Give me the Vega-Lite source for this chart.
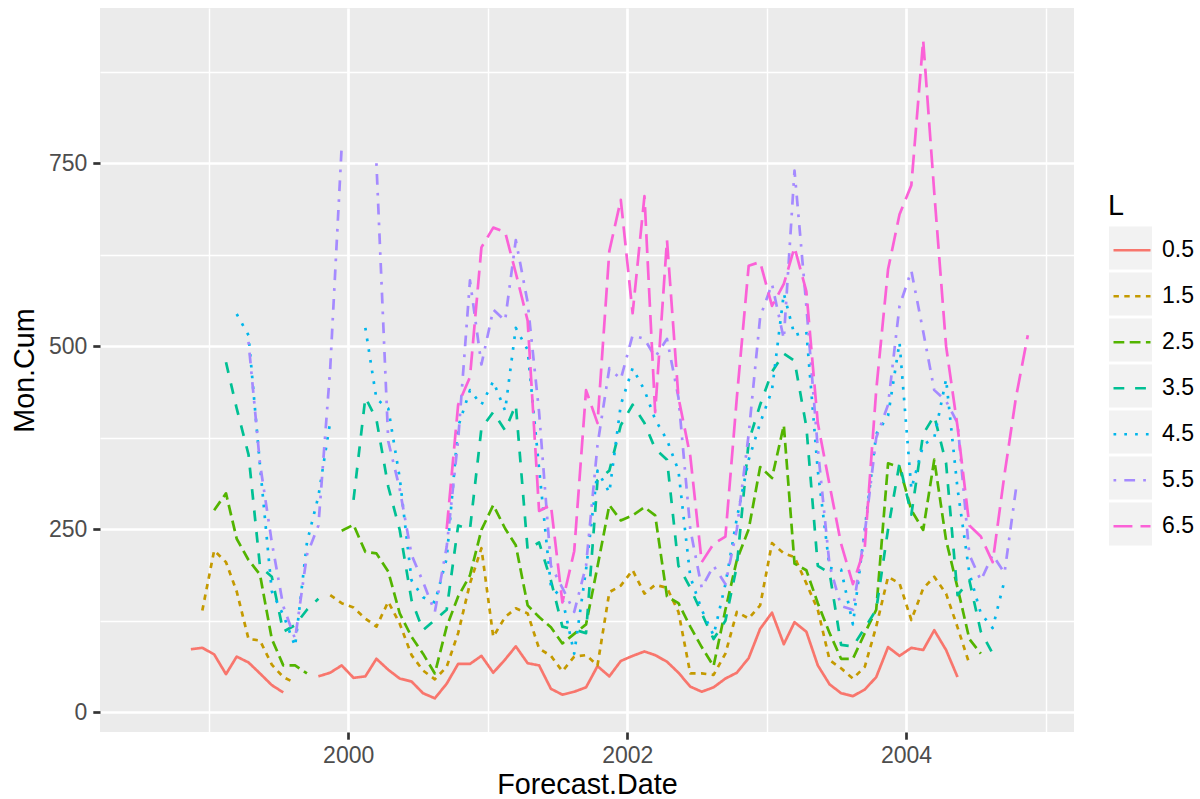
{
  "$schema": "https://vega.github.io/schema/vega-lite/v6.json",
  "width": 974,
  "height": 724,
  "autosize": {"type": "none"},
  "padding": {"left": 100, "top": 8, "right": 126, "bottom": 67},
  "background": "#FFFFFF",
  "config": {
    "font": "Liberation Sans",
    "view": {"fill": "#EBEBEB", "stroke": null},
    "axis": {"domain": false}
  },
  "data": {
    "format": {"parse": {"d": "utc:'%Y-%m-%d'"}},
    "values": [
      {"L":"0.5","d":"1998-11-15","v":86},{"L":"0.5","d":"1998-12-15","v":88},{"L":"0.5","d":"1999-01-15","v":79},{"L":"0.5","d":"1999-02-15","v":52},{"L":"0.5","d":"1999-03-15","v":76},{"L":"0.5","d":"1999-04-15","v":68},{"L":"0.5","d":"1999-05-15","v":53},{"L":"0.5","d":"1999-06-15","v":37},{"L":"0.5","d":"1999-07-15","v":27},{"L":"0.5","d":"1999-08-15","v":null},{"L":"0.5","d":"1999-10-15","v":49},{"L":"0.5","d":"1999-11-15","v":54},{"L":"0.5","d":"1999-12-15","v":64},
      {"L":"0.5","d":"2000-01-15","v":47},{"L":"0.5","d":"2000-02-15","v":49},{"L":"0.5","d":"2000-03-15","v":73},{"L":"0.5","d":"2000-04-15","v":58},{"L":"0.5","d":"2000-05-15","v":46},{"L":"0.5","d":"2000-06-15","v":42},{"L":"0.5","d":"2000-07-15","v":26},{"L":"0.5","d":"2000-08-15","v":19},{"L":"0.5","d":"2000-09-15","v":39},{"L":"0.5","d":"2000-10-15","v":66},{"L":"0.5","d":"2000-11-15","v":66},{"L":"0.5","d":"2000-12-15","v":77},
      {"L":"0.5","d":"2001-01-15","v":54},{"L":"0.5","d":"2001-02-15","v":72},{"L":"0.5","d":"2001-03-15","v":90},{"L":"0.5","d":"2001-04-15","v":67},{"L":"0.5","d":"2001-05-15","v":64},{"L":"0.5","d":"2001-06-15","v":32},{"L":"0.5","d":"2001-07-15","v":24},{"L":"0.5","d":"2001-08-15","v":28},{"L":"0.5","d":"2001-09-15","v":34},{"L":"0.5","d":"2001-10-15","v":63},{"L":"0.5","d":"2001-11-15","v":49},{"L":"0.5","d":"2001-12-15","v":70},
      {"L":"0.5","d":"2002-01-15","v":77},{"L":"0.5","d":"2002-02-15","v":83},{"L":"0.5","d":"2002-03-15","v":78},{"L":"0.5","d":"2002-04-15","v":69},{"L":"0.5","d":"2002-05-15","v":54},{"L":"0.5","d":"2002-06-15","v":35},{"L":"0.5","d":"2002-07-15","v":28},{"L":"0.5","d":"2002-08-15","v":34},{"L":"0.5","d":"2002-09-15","v":46},{"L":"0.5","d":"2002-10-15","v":54},{"L":"0.5","d":"2002-11-15","v":74},{"L":"0.5","d":"2002-12-15","v":114},
      {"L":"0.5","d":"2003-01-15","v":136},{"L":"0.5","d":"2003-02-15","v":93},{"L":"0.5","d":"2003-03-15","v":123},{"L":"0.5","d":"2003-04-15","v":110},{"L":"0.5","d":"2003-05-15","v":64},{"L":"0.5","d":"2003-06-15","v":38},{"L":"0.5","d":"2003-07-15","v":26},{"L":"0.5","d":"2003-08-15","v":22},{"L":"0.5","d":"2003-09-15","v":31},{"L":"0.5","d":"2003-10-15","v":48},{"L":"0.5","d":"2003-11-15","v":89},{"L":"0.5","d":"2003-12-15","v":77},
      {"L":"0.5","d":"2004-01-15","v":88},{"L":"0.5","d":"2004-02-15","v":85},{"L":"0.5","d":"2004-03-15","v":112},{"L":"0.5","d":"2004-04-15","v":85},{"L":"0.5","d":"2004-05-15","v":48},

      {"L":"1.5","d":"1998-12-15","v":139},{"L":"1.5","d":"1999-01-15","v":221},{"L":"1.5","d":"1999-02-15","v":205},{"L":"1.5","d":"1999-03-15","v":165},{"L":"1.5","d":"1999-04-15","v":100},{"L":"1.5","d":"1999-05-15","v":98},{"L":"1.5","d":"1999-06-15","v":65},{"L":"1.5","d":"1999-07-15","v":48},{"L":"1.5","d":"1999-08-15","v":40},{"L":"1.5","d":"1999-09-15","v":null},{"L":"1.5","d":"1999-11-15","v":160},{"L":"1.5","d":"1999-12-15","v":149},
      {"L":"1.5","d":"2000-01-15","v":143},{"L":"1.5","d":"2000-02-15","v":128},{"L":"1.5","d":"2000-03-15","v":117},{"L":"1.5","d":"2000-04-15","v":151},{"L":"1.5","d":"2000-05-15","v":121},{"L":"1.5","d":"2000-06-15","v":78},{"L":"1.5","d":"2000-07-15","v":57},{"L":"1.5","d":"2000-08-15","v":45},{"L":"1.5","d":"2000-09-15","v":62},{"L":"1.5","d":"2000-10-15","v":108},{"L":"1.5","d":"2000-11-15","v":176},{"L":"1.5","d":"2000-12-15","v":224},
      {"L":"1.5","d":"2001-01-15","v":103},{"L":"1.5","d":"2001-02-15","v":130},{"L":"1.5","d":"2001-03-15","v":142},{"L":"1.5","d":"2001-04-15","v":135},{"L":"1.5","d":"2001-05-15","v":87},{"L":"1.5","d":"2001-06-15","v":77},{"L":"1.5","d":"2001-07-15","v":56},{"L":"1.5","d":"2001-08-15","v":76},{"L":"1.5","d":"2001-09-15","v":78},{"L":"1.5","d":"2001-10-15","v":64},{"L":"1.5","d":"2001-11-15","v":164},{"L":"1.5","d":"2001-12-15","v":173},
      {"L":"1.5","d":"2002-01-15","v":194},{"L":"1.5","d":"2002-02-15","v":162},{"L":"1.5","d":"2002-03-15","v":174},{"L":"1.5","d":"2002-04-15","v":170},{"L":"1.5","d":"2002-05-15","v":137},{"L":"1.5","d":"2002-06-15","v":53},{"L":"1.5","d":"2002-07-15","v":53},{"L":"1.5","d":"2002-08-15","v":51},{"L":"1.5","d":"2002-09-15","v":80},{"L":"1.5","d":"2002-10-15","v":137},{"L":"1.5","d":"2002-11-15","v":128},{"L":"1.5","d":"2002-12-15","v":146},
      {"L":"1.5","d":"2003-01-15","v":231},{"L":"1.5","d":"2003-02-15","v":217},{"L":"1.5","d":"2003-03-15","v":212},{"L":"1.5","d":"2003-04-15","v":176},{"L":"1.5","d":"2003-05-15","v":140},{"L":"1.5","d":"2003-06-15","v":71},{"L":"1.5","d":"2003-07-15","v":60},{"L":"1.5","d":"2003-08-15","v":46},{"L":"1.5","d":"2003-09-15","v":62},{"L":"1.5","d":"2003-10-15","v":117},{"L":"1.5","d":"2003-11-15","v":185},{"L":"1.5","d":"2003-12-15","v":176},
      {"L":"1.5","d":"2004-01-15","v":126},{"L":"1.5","d":"2004-02-15","v":169},{"L":"1.5","d":"2004-03-15","v":185},{"L":"1.5","d":"2004-04-15","v":162},{"L":"1.5","d":"2004-05-15","v":116},{"L":"1.5","d":"2004-06-15","v":66},

      {"L":"2.5","d":"1999-01-15","v":276},{"L":"2.5","d":"1999-02-15","v":299},{"L":"2.5","d":"1999-03-15","v":237},{"L":"2.5","d":"1999-04-15","v":208},{"L":"2.5","d":"1999-05-15","v":188},{"L":"2.5","d":"1999-06-15","v":100},{"L":"2.5","d":"1999-07-15","v":64},{"L":"2.5","d":"1999-08-15","v":64},{"L":"2.5","d":"1999-09-15","v":53},{"L":"2.5","d":"1999-10-15","v":null},{"L":"2.5","d":"1999-12-15","v":248},
      {"L":"2.5","d":"2000-01-15","v":256},{"L":"2.5","d":"2000-02-15","v":219},{"L":"2.5","d":"2000-03-15","v":217},{"L":"2.5","d":"2000-04-15","v":192},{"L":"2.5","d":"2000-05-15","v":135},{"L":"2.5","d":"2000-06-15","v":103},{"L":"2.5","d":"2000-07-15","v":80},{"L":"2.5","d":"2000-08-15","v":53},{"L":"2.5","d":"2000-09-15","v":117},{"L":"2.5","d":"2000-10-15","v":158},{"L":"2.5","d":"2000-11-15","v":187},{"L":"2.5","d":"2000-12-15","v":249},
      {"L":"2.5","d":"2001-01-15","v":283},{"L":"2.5","d":"2001-02-15","v":251},{"L":"2.5","d":"2001-03-15","v":228},{"L":"2.5","d":"2001-04-15","v":146},{"L":"2.5","d":"2001-05-15","v":130},{"L":"2.5","d":"2001-06-15","v":116},{"L":"2.5","d":"2001-07-15","v":94},{"L":"2.5","d":"2001-08-15","v":107},{"L":"2.5","d":"2001-09-15","v":120},{"L":"2.5","d":"2001-10-15","v":199},{"L":"2.5","d":"2001-11-15","v":283},{"L":"2.5","d":"2001-12-15","v":262},
      {"L":"2.5","d":"2002-01-15","v":269},{"L":"2.5","d":"2002-02-15","v":280},{"L":"2.5","d":"2002-03-15","v":269},{"L":"2.5","d":"2002-04-15","v":158},{"L":"2.5","d":"2002-05-15","v":149},{"L":"2.5","d":"2002-06-15","v":117},{"L":"2.5","d":"2002-07-15","v":89},{"L":"2.5","d":"2002-08-15","v":63},{"L":"2.5","d":"2002-09-15","v":140},{"L":"2.5","d":"2002-10-15","v":208},{"L":"2.5","d":"2002-11-15","v":250},{"L":"2.5","d":"2002-12-15","v":335},
      {"L":"2.5","d":"2003-01-15","v":320},{"L":"2.5","d":"2003-02-15","v":392},{"L":"2.5","d":"2003-03-15","v":203},{"L":"2.5","d":"2003-04-15","v":194},{"L":"2.5","d":"2003-05-15","v":149},{"L":"2.5","d":"2003-06-15","v":108},{"L":"2.5","d":"2003-07-15","v":73},{"L":"2.5","d":"2003-08-15","v":73},{"L":"2.5","d":"2003-09-15","v":108},{"L":"2.5","d":"2003-10-15","v":140},{"L":"2.5","d":"2003-11-15","v":340},{"L":"2.5","d":"2003-12-15","v":335},
      {"L":"2.5","d":"2004-01-15","v":276},{"L":"2.5","d":"2004-02-15","v":249},{"L":"2.5","d":"2004-03-15","v":345},{"L":"2.5","d":"2004-04-15","v":235},{"L":"2.5","d":"2004-05-15","v":170},{"L":"2.5","d":"2004-06-15","v":100},{"L":"2.5","d":"2004-07-15","v":80},

      {"L":"3.5","d":"1999-02-15","v":478},{"L":"3.5","d":"1999-03-15","v":415},{"L":"3.5","d":"1999-04-15","v":352},{"L":"3.5","d":"1999-05-15","v":199},{"L":"3.5","d":"1999-06-15","v":185},{"L":"3.5","d":"1999-07-15","v":110},{"L":"3.5","d":"1999-08-15","v":119},{"L":"3.5","d":"1999-09-15","v":140},{"L":"3.5","d":"1999-10-15","v":155},{"L":"3.5","d":"1999-11-15","v":null},
      {"L":"3.5","d":"2000-01-15","v":290},{"L":"3.5","d":"2000-02-15","v":430},{"L":"3.5","d":"2000-03-15","v":400},{"L":"3.5","d":"2000-04-15","v":308},{"L":"3.5","d":"2000-05-15","v":249},{"L":"3.5","d":"2000-06-15","v":153},{"L":"3.5","d":"2000-07-15","v":112},{"L":"3.5","d":"2000-08-15","v":126},{"L":"3.5","d":"2000-09-15","v":140},{"L":"3.5","d":"2000-10-15","v":255},{"L":"3.5","d":"2000-11-15","v":250},{"L":"3.5","d":"2000-12-15","v":388},
      {"L":"3.5","d":"2001-01-15","v":410},{"L":"3.5","d":"2001-02-15","v":385},{"L":"3.5","d":"2001-03-15","v":420},{"L":"3.5","d":"2001-04-15","v":222},{"L":"3.5","d":"2001-05-15","v":232},{"L":"3.5","d":"2001-06-15","v":180},{"L":"3.5","d":"2001-07-15","v":117},{"L":"3.5","d":"2001-08-15","v":113},{"L":"3.5","d":"2001-09-15","v":108},{"L":"3.5","d":"2001-10-15","v":317},{"L":"3.5","d":"2001-11-15","v":330},{"L":"3.5","d":"2001-12-15","v":392},
      {"L":"3.5","d":"2002-01-15","v":420},{"L":"3.5","d":"2002-02-15","v":395},{"L":"3.5","d":"2002-03-15","v":360},{"L":"3.5","d":"2002-04-15","v":345},{"L":"3.5","d":"2002-05-15","v":200},{"L":"3.5","d":"2002-06-15","v":170},{"L":"3.5","d":"2002-07-15","v":135},{"L":"3.5","d":"2002-08-15","v":100},{"L":"3.5","d":"2002-09-15","v":125},{"L":"3.5","d":"2002-10-15","v":200},{"L":"3.5","d":"2002-11-15","v":370},{"L":"3.5","d":"2002-12-15","v":420},
      {"L":"3.5","d":"2003-01-15","v":465},{"L":"3.5","d":"2003-02-15","v":490},{"L":"3.5","d":"2003-03-15","v":480},{"L":"3.5","d":"2003-04-15","v":390},{"L":"3.5","d":"2003-05-15","v":200},{"L":"3.5","d":"2003-06-15","v":190},{"L":"3.5","d":"2003-07-15","v":92},{"L":"3.5","d":"2003-08-15","v":90},{"L":"3.5","d":"2003-09-15","v":115},{"L":"3.5","d":"2003-10-15","v":140},{"L":"3.5","d":"2003-11-15","v":250},{"L":"3.5","d":"2003-12-15","v":340},
      {"L":"3.5","d":"2004-01-15","v":270},{"L":"3.5","d":"2004-02-15","v":380},{"L":"3.5","d":"2004-03-15","v":405},{"L":"3.5","d":"2004-04-15","v":340},{"L":"3.5","d":"2004-05-15","v":160},{"L":"3.5","d":"2004-06-15","v":180},{"L":"3.5","d":"2004-07-15","v":110},{"L":"3.5","d":"2004-08-15","v":80},

      {"L":"4.5","d":"1999-03-15","v":544},{"L":"4.5","d":"1999-04-15","v":515},{"L":"4.5","d":"1999-05-15","v":337},{"L":"4.5","d":"1999-06-15","v":165},{"L":"4.5","d":"1999-07-15","v":133},{"L":"4.5","d":"1999-08-15","v":90},{"L":"4.5","d":"1999-09-15","v":232},{"L":"4.5","d":"1999-10-15","v":295},{"L":"4.5","d":"1999-11-15","v":397},{"L":"4.5","d":"1999-12-15","v":null},
      {"L":"4.5","d":"2000-02-15","v":525},{"L":"4.5","d":"2000-03-15","v":428},{"L":"4.5","d":"2000-04-15","v":415},{"L":"4.5","d":"2000-05-15","v":320},{"L":"4.5","d":"2000-06-15","v":180},{"L":"4.5","d":"2000-07-15","v":157},{"L":"4.5","d":"2000-08-15","v":150},{"L":"4.5","d":"2000-09-15","v":210},{"L":"4.5","d":"2000-10-15","v":390},{"L":"4.5","d":"2000-11-15","v":440},{"L":"4.5","d":"2000-12-15","v":420},
      {"L":"4.5","d":"2001-01-15","v":452},{"L":"4.5","d":"2001-02-15","v":412},{"L":"4.5","d":"2001-03-15","v":525},{"L":"4.5","d":"2001-04-15","v":495},{"L":"4.5","d":"2001-05-15","v":333},{"L":"4.5","d":"2001-06-15","v":172},{"L":"4.5","d":"2001-07-15","v":155},{"L":"4.5","d":"2001-08-15","v":80},{"L":"4.5","d":"2001-09-15","v":195},{"L":"4.5","d":"2001-10-15","v":330},{"L":"4.5","d":"2001-11-15","v":300},{"L":"4.5","d":"2001-12-15","v":420},
      {"L":"4.5","d":"2002-01-15","v":470},{"L":"4.5","d":"2002-02-15","v":440},{"L":"4.5","d":"2002-03-15","v":400},{"L":"4.5","d":"2002-04-15","v":372},{"L":"4.5","d":"2002-05-15","v":330},{"L":"4.5","d":"2002-06-15","v":185},{"L":"4.5","d":"2002-07-15","v":140},{"L":"4.5","d":"2002-08-15","v":105},{"L":"4.5","d":"2002-09-15","v":175},{"L":"4.5","d":"2002-10-15","v":265},{"L":"4.5","d":"2002-11-15","v":345},{"L":"4.5","d":"2002-12-15","v":395},
      {"L":"4.5","d":"2003-01-15","v":440},{"L":"4.5","d":"2003-02-15","v":572},{"L":"4.5","d":"2003-03-15","v":515},{"L":"4.5","d":"2003-04-15","v":520},{"L":"4.5","d":"2003-05-15","v":330},{"L":"4.5","d":"2003-06-15","v":197},{"L":"4.5","d":"2003-07-15","v":195},{"L":"4.5","d":"2003-08-15","v":120},{"L":"4.5","d":"2003-09-15","v":250},{"L":"4.5","d":"2003-10-15","v":380},{"L":"4.5","d":"2003-11-15","v":405},{"L":"4.5","d":"2003-12-15","v":505},
      {"L":"4.5","d":"2004-01-15","v":305},{"L":"4.5","d":"2004-02-15","v":365},{"L":"4.5","d":"2004-03-15","v":375},{"L":"4.5","d":"2004-04-15","v":455},{"L":"4.5","d":"2004-05-15","v":305},{"L":"4.5","d":"2004-06-15","v":190},{"L":"4.5","d":"2004-07-15","v":135},{"L":"4.5","d":"2004-08-15","v":115},{"L":"4.5","d":"2004-09-15","v":180},

      {"L":"5.5","d":"1999-04-15","v":506},{"L":"5.5","d":"1999-05-15","v":340},{"L":"5.5","d":"1999-06-15","v":232},{"L":"5.5","d":"1999-07-15","v":145},{"L":"5.5","d":"1999-08-15","v":100},{"L":"5.5","d":"1999-09-15","v":215},{"L":"5.5","d":"1999-10-15","v":255},{"L":"5.5","d":"1999-11-15","v":470},{"L":"5.5","d":"1999-12-15","v":773},{"L":"5.5","d":"2000-01-15","v":null},
      {"L":"5.5","d":"2000-03-15","v":750},{"L":"5.5","d":"2000-04-15","v":370},{"L":"5.5","d":"2000-05-15","v":305},{"L":"5.5","d":"2000-06-15","v":215},{"L":"5.5","d":"2000-07-15","v":178},{"L":"5.5","d":"2000-08-15","v":137},{"L":"5.5","d":"2000-09-15","v":226},{"L":"5.5","d":"2000-10-15","v":372},{"L":"5.5","d":"2000-11-15","v":590},{"L":"5.5","d":"2000-12-15","v":475},
      {"L":"5.5","d":"2001-01-15","v":550},{"L":"5.5","d":"2001-02-15","v":535},{"L":"5.5","d":"2001-03-15","v":645},{"L":"5.5","d":"2001-04-15","v":560},{"L":"5.5","d":"2001-05-15","v":410},{"L":"5.5","d":"2001-06-15","v":200},{"L":"5.5","d":"2001-07-15","v":170},{"L":"5.5","d":"2001-08-15","v":137},{"L":"5.5","d":"2001-09-15","v":200},{"L":"5.5","d":"2001-10-15","v":365},{"L":"5.5","d":"2001-11-15","v":470},{"L":"5.5","d":"2001-12-15","v":455},
      {"L":"5.5","d":"2002-01-15","v":515},{"L":"5.5","d":"2002-02-15","v":510},{"L":"5.5","d":"2002-03-15","v":485},{"L":"5.5","d":"2002-04-15","v":510},{"L":"5.5","d":"2002-05-15","v":430},{"L":"5.5","d":"2002-06-15","v":250},{"L":"5.5","d":"2002-07-15","v":170},{"L":"5.5","d":"2002-08-15","v":200},{"L":"5.5","d":"2002-09-15","v":175},{"L":"5.5","d":"2002-10-15","v":250},{"L":"5.5","d":"2002-11-15","v":380},{"L":"5.5","d":"2002-12-15","v":540},
      {"L":"5.5","d":"2003-01-15","v":585},{"L":"5.5","d":"2003-02-15","v":510},{"L":"5.5","d":"2003-03-15","v":740},{"L":"5.5","d":"2003-04-15","v":555},{"L":"5.5","d":"2003-05-15","v":360},{"L":"5.5","d":"2003-06-15","v":200},{"L":"5.5","d":"2003-07-15","v":145},{"L":"5.5","d":"2003-08-15","v":140},{"L":"5.5","d":"2003-09-15","v":245},{"L":"5.5","d":"2003-10-15","v":375},{"L":"5.5","d":"2003-11-15","v":420},{"L":"5.5","d":"2003-12-15","v":555},
      {"L":"5.5","d":"2004-01-15","v":603},{"L":"5.5","d":"2004-02-15","v":520},{"L":"5.5","d":"2004-03-15","v":440},{"L":"5.5","d":"2004-04-15","v":425},{"L":"5.5","d":"2004-05-15","v":395},{"L":"5.5","d":"2004-06-15","v":215},{"L":"5.5","d":"2004-07-15","v":180},{"L":"5.5","d":"2004-08-15","v":215},{"L":"5.5","d":"2004-09-15","v":190},{"L":"5.5","d":"2004-10-15","v":305},

      {"L":"6.5","d":"2000-09-15","v":250},{"L":"6.5","d":"2000-10-15","v":420},{"L":"6.5","d":"2000-11-15","v":458},{"L":"6.5","d":"2000-12-15","v":635},
      {"L":"6.5","d":"2001-01-15","v":662},{"L":"6.5","d":"2001-02-15","v":656},{"L":"6.5","d":"2001-03-15","v":600},{"L":"6.5","d":"2001-04-15","v":535},{"L":"6.5","d":"2001-05-15","v":275},{"L":"6.5","d":"2001-06-15","v":283},{"L":"6.5","d":"2001-07-15","v":150},{"L":"6.5","d":"2001-08-15","v":220},{"L":"6.5","d":"2001-09-15","v":440},{"L":"6.5","d":"2001-10-15","v":395},{"L":"6.5","d":"2001-11-15","v":630},{"L":"6.5","d":"2001-12-15","v":700},
      {"L":"6.5","d":"2002-01-15","v":545},{"L":"6.5","d":"2002-02-15","v":705},{"L":"6.5","d":"2002-03-15","v":410},{"L":"6.5","d":"2002-04-15","v":645},{"L":"6.5","d":"2002-05-15","v":430},{"L":"6.5","d":"2002-06-15","v":350},{"L":"6.5","d":"2002-07-15","v":205},{"L":"6.5","d":"2002-08-15","v":230},{"L":"6.5","d":"2002-09-15","v":240},{"L":"6.5","d":"2002-10-15","v":430},{"L":"6.5","d":"2002-11-15","v":610},{"L":"6.5","d":"2002-12-15","v":615},
      {"L":"6.5","d":"2003-01-15","v":555},{"L":"6.5","d":"2003-02-15","v":585},{"L":"6.5","d":"2003-03-15","v":635},{"L":"6.5","d":"2003-04-15","v":575},{"L":"6.5","d":"2003-05-15","v":395},{"L":"6.5","d":"2003-06-15","v":310},{"L":"6.5","d":"2003-07-15","v":230},{"L":"6.5","d":"2003-08-15","v":175},{"L":"6.5","d":"2003-09-15","v":225},{"L":"6.5","d":"2003-10-15","v":440},{"L":"6.5","d":"2003-11-15","v":605},{"L":"6.5","d":"2003-12-15","v":680},
      {"L":"6.5","d":"2004-01-15","v":720},{"L":"6.5","d":"2004-02-15","v":918},{"L":"6.5","d":"2004-03-15","v":710},{"L":"6.5","d":"2004-04-15","v":500},{"L":"6.5","d":"2004-05-15","v":390},{"L":"6.5","d":"2004-06-15","v":255},{"L":"6.5","d":"2004-07-15","v":240},{"L":"6.5","d":"2004-08-15","v":205},{"L":"6.5","d":"2004-09-15","v":325},{"L":"6.5","d":"2004-10-15","v":430},{"L":"6.5","d":"2004-11-15","v":515}
    ]
  },
  "layer": [
    {
      "mark": {"type": "point", "opacity": 0, "filled": true, "color": "#F2F2F2"},
      "encoding": {
        "x": {
          "field": "d", "type": "temporal",
          "scale": {"type": "utc", "nice": false, "domain": [{"year": 1998, "month": 3, "date": 22, "utc": true}, {"year": 2005, "month": 3, "date": 16, "utc": true}]},
          "axis": {"orient": "bottom", "values": [{"year": 1999, "month": 1, "date": 1, "utc": true}, {"year": 2001, "month": 1, "date": 1, "utc": true}, {"year": 2003, "month": 1, "date": 1, "utc": true}, {"year": 2005, "month": 1, "date": 1, "utc": true}], "grid": true, "gridColor": "#FFFFFF", "gridWidth": 1.4, "gridOpacity": 1, "labels": false, "ticks": false, "domain": false, "title": null}
        },
        "y": {
          "field": "v", "type": "quantitative",
          "scale": {"domain": [-27, 962], "nice": false, "zero": false},
          "axis": {"orient": "left", "values": [125, 375, 625, 875], "grid": true, "gridColor": "#FFFFFF", "gridWidth": 1.4, "gridOpacity": 1, "labels": false, "ticks": false, "domain": false, "title": null}
        },
        "shape": {
          "field": "L", "type": "nominal",
          "scale": {"range": ["square"]},
          "legend": {"title": null, "orient": "none", "legendX": 1009, "legendY": 218.5, "padding": 0, "symbolSize": 1849, "symbolOpacity": 1, "symbolFillColor": "#F2F2F2", "symbolStrokeColor": "#F2F2F2", "symbolStrokeWidth": 0, "labelExpr": "''", "labelFontSize": 23, "rowPadding": 3}
        }
      }
    },
    {
      "mark": {"type": "line", "strokeWidth": 2.7, "strokeJoin": "round", "strokeCap": "butt", "invalid": "break-paths-show-domains"},
      "encoding": {
        "x": {
          "field": "d", "type": "temporal",
          "axis": {"orient": "bottom", "values": [{"year": 2000, "month": 1, "date": 1, "utc": true}, {"year": 2002, "month": 1, "date": 1, "utc": true}, {"year": 2004, "month": 1, "date": 1, "utc": true}], "format": "%Y", "grid": true, "gridColor": "#FFFFFF", "gridWidth": 2.7, "gridOpacity": 1, "ticks": true, "tickColor": "#333333", "tickWidth": 2.7, "tickSize": 7.2, "labelFontSize": 23, "labelColor": "#4D4D4D", "labelPadding": 5, "labelFlush": false, "labelOverlap": false, "domain": false, "title": "Forecast.Date", "titleFontSize": 28.75, "titleFontWeight": "normal", "titleColor": "#000000", "titlePadding": 3}
        },
        "y": {
          "field": "v", "type": "quantitative",
          "axis": {"orient": "left", "values": [0, 250, 500, 750], "grid": true, "gridColor": "#FFFFFF", "gridWidth": 2.7, "gridOpacity": 1, "ticks": true, "tickColor": "#333333", "tickWidth": 2.7, "tickSize": 7.2, "labelFontSize": 23, "labelColor": "#4D4D4D", "labelPadding": 6, "labelOverlap": false, "domain": false, "title": "Mon.Cum", "titleFontSize": 28.75, "titleFontWeight": "normal", "titleColor": "#000000", "titlePadding": 9}
        },
        "color": {
          "field": "L", "type": "nominal",
          "scale": {"domain": ["0.5", "1.5", "2.5", "3.5", "4.5", "5.5", "6.5"], "range": ["#F8766D", "#C49A00", "#53B400", "#00C094", "#00B6EB", "#A58AFF", "#FB61D7"]},
          "legend": {"title": "L", "orient": "none", "legendX": 1008, "legendY": 183.5, "padding": 0, "symbolType": "stroke", "symbolSize": 1369, "symbolStrokeWidth": 2.7, "symbolOffset": 4, "labelFontSize": 23, "labelColor": "#000000", "labelOffset": 10, "titleFontSize": 28.75, "titleFontWeight": "normal", "titleColor": "#000000", "titlePadding": 10, "rowPadding": 14}
        },
        "strokeDash": {
          "field": "L", "type": "nominal",
          "scale": {"domain": ["0.5", "1.5", "2.5", "3.5", "4.5", "5.5", "6.5"], "range": [[1, 0], [5.4, 5.4], [10.8, 5.4], [10.8, 10.8], [2.7, 8.1], [2.7, 8.1, 10.8, 8.1], [18.9, 8.1]]},
          "legend": {"title": "L", "orient": "none", "legendX": 1008, "legendY": 183.5, "padding": 0, "symbolType": "stroke", "symbolSize": 1369, "symbolStrokeWidth": 2.7, "symbolOffset": 4, "labelFontSize": 23, "labelColor": "#000000", "labelOffset": 10, "titleFontSize": 28.75, "titleFontWeight": "normal", "titleColor": "#000000", "titlePadding": 10, "rowPadding": 14}
        }
      }
    }
  ],
  "resolve": {"axis": {"x": "independent", "y": "independent"}}
}
